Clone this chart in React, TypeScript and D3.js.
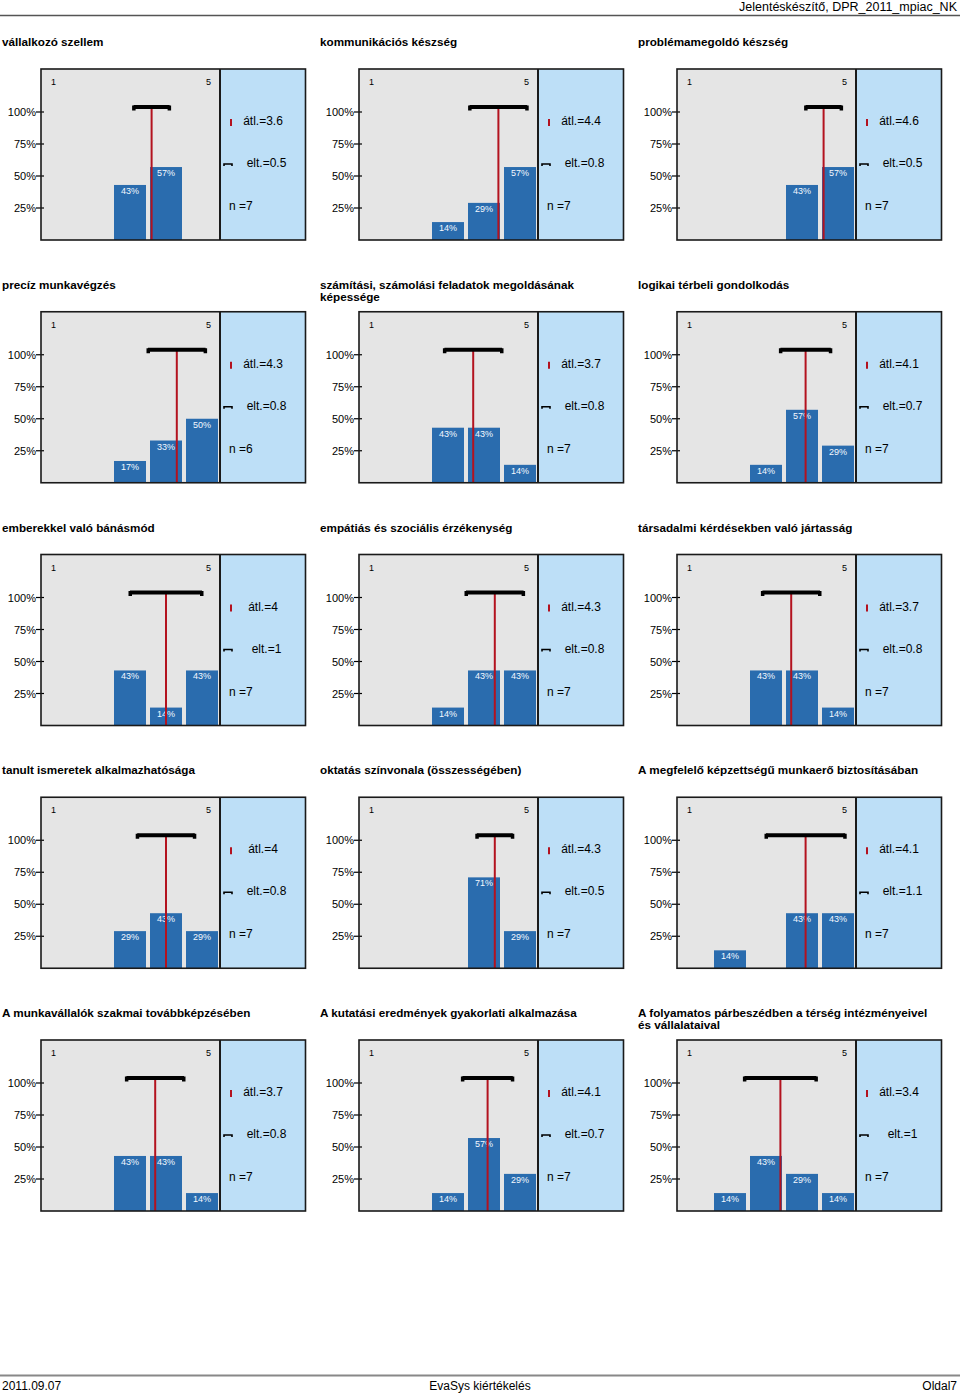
import React from "react";
import * as d3 from "d3";

const titles: string[][] = [
  ["vállalkozó szellem"],
  ["kommunikációs készség"],
  ["problémamegoldó készség"],
  ["precíz munkavégzés"],
  ["számítási, számolási feladatok megoldásának", "képessége"],
  ["logikai térbeli gondolkodás"],
  ["emberekkel való bánásmód"],
  ["empátiás és szociális érzékenység"],
  ["társadalmi kérdésekben való jártasság"],
  ["tanult ismeretek alkalmazhatósága"],
  ["oktatás színvonala (összességében)"],
  ["A megfelelő képzettségű munkaerő biztosításában"],
  ["A munkavállalók szakmai továbbképzésében"],
  ["A kutatási eredmények gyakorlati alkalmazása"],
  ["A folyamatos párbeszédben a térség intézményeivel", "és vállalataival"],
];

// percentage of answers per scale point 1..5
const distributions: number[][] = [
  [0, 0, 43, 57, 0],
  [0, 0, 14, 29, 57],
  [0, 0, 0, 43, 57],
  [0, 0, 17, 33, 50],
  [0, 0, 43, 43, 14],
  [0, 0, 14, 57, 29],
  [0, 0, 43, 14, 43],
  [0, 0, 14, 43, 43],
  [0, 0, 43, 43, 14],
  [0, 0, 29, 43, 29],
  [0, 0, 0, 71, 29],
  [0, 14, 0, 43, 43],
  [0, 0, 43, 43, 14],
  [0, 0, 14, 57, 29],
  [0, 14, 43, 29, 14],
];

const means: number[] = [3.6, 4.4, 4.6, 4.3, 3.7, 4.1, 4, 4.3, 3.7, 4, 4.3, 4.1, 3.7, 4.1, 3.4];
const sds: number[] = [0.5, 0.8, 0.5, 0.8, 0.8, 0.7, 1, 0.8, 0.8, 0.8, 0.5, 1.1, 0.8, 0.7, 1];
const counts: number[] = [7, 7, 7, 6, 7, 7, 7, 7, 7, 7, 7, 7, 7, 7, 7];

const scalePoints = [1, 2, 3, 4, 5];
const yTicks = [0.25, 0.5, 0.75, 1];

const W = 960;
const H = 1395;
const FONT = "'Liberation Sans', Arial, Helvetica, sans-serif";
const BAR = "#2a6cae";
const GRAY = "#e5e5e5";
const LIGHTBLUE = "#bddff7";
const RED = "#b3121f";

function Panel({ idx }: { idx: number }) {
  const col = idx % 3;
  const row = Math.floor(idx / 3);
  const ox = col * 318;
  const oy = row * 242.75;
  const gx = ox + 41;
  const gRight = ox + 220;
  const bRight = ox + 305.5;
  const top = oy + 69;
  const bottom = oy + 240;

  const xBand = d3.scaleBand<number>().domain(scalePoints).range([gx + 1, gx + 177]).paddingInner(4 / 36).paddingOuter(0);
  const xVal = d3.scaleLinear().domain([1, 5]).range([gx + 17, gx + 161]);
  const y = d3.scaleLinear().domain([0, 1]).range([bottom, bottom - 128]);

  const dist = distributions[idx];
  const m = means[idx];
  const sd = sds[idx];
  const bracketY = y(1) - 5;
  const x0 = xVal(m - sd);
  const x1 = xVal(m + sd);

  return (
    <g>
      {titles[idx].map((t, i) => (
        <text key={i} x={ox + 2} y={oy + 46 + i * 12} fontSize={11.7} fontWeight="bold" fill="#000">
          {t}
        </text>
      ))}
      <rect x={gx} y={top} width={gRight - gx} height={bottom - top} fill={GRAY} />
      <rect x={gRight} y={top} width={bRight - gRight} height={bottom - top} fill={LIGHTBLUE} />
      <text x={gx + 10} y={top + 16} fontSize={9} fill="#000">1</text>
      <text x={gx + 165} y={top + 16} fontSize={9} fill="#000">5</text>
      {yTicks.map((t) => (
        <g key={t}>
          <line x1={ox + 36} x2={gx + 3} y1={y(t)} y2={y(t)} stroke="#000" strokeWidth={1.2} />
          <text x={ox + 36} y={y(t) + 4} fontSize={11} textAnchor="end" fill="#000">
            {d3.format(".0%")(t)}
          </text>
        </g>
      ))}
      {dist.map((v, i) =>
        v > 0 ? (
          <g key={i}>
            <rect x={xBand(scalePoints[i])} y={y(v / 100)} width={xBand.bandwidth()} height={bottom - y(v / 100)} fill={BAR} />
            <text x={(xBand(scalePoints[i]) as number) + xBand.bandwidth() / 2} y={y(v / 100) + 9} fontSize={9} textAnchor="middle" fill="#f4f8ff">
              {v}%
            </text>
          </g>
        ) : null
      )}
      <line x1={xVal(m)} x2={xVal(m)} y1={bracketY} y2={bottom} stroke={RED} strokeWidth={2} />
      <path d={`M${x0},${bracketY}H${x1}`} stroke="#000" strokeWidth={3.8} fill="none" />
      <rect x={x0 - 1.5} y={bracketY - 1.5} width={3.5} height={5} fill="#000" />
      <rect x={x1 - 2} y={bracketY - 1.5} width={3.5} height={5} fill="#000" />
      {/* legend */}
      <line x1={ox + 231} x2={ox + 231} y1={top + 50} y2={top + 57} stroke={RED} strokeWidth={2} />
      <text x={ox + 263} y={top + 56} fontSize={12} textAnchor="middle" fill="#000">
        átl.={m}
      </text>
      <path d={`M${ox + 224},${top + 97}V${top + 95}H${ox + 232}V${top + 97}`} stroke="#000" strokeWidth={1.6} fill="none" />
      <text x={ox + 266.5} y={top + 98} fontSize={12} textAnchor="middle" fill="#000">
        elt.={sd}
      </text>
      <text x={ox + 229} y={top + 141} fontSize={12} fill="#000">
        n ={counts[idx]}
      </text>
      {/* borders */}
      <rect x={gx} y={top} width={bRight - gx} height={bottom - top} fill="none" stroke="#1a1a1a" strokeWidth={1.6} />
      <line x1={gRight} x2={gRight} y1={top} y2={bottom} stroke="#1a1a1a" strokeWidth={2} />
    </g>
  );
}

export default function App() {
  return (
    <div style={{ position: "absolute", left: 0, top: 0 }}>
      <svg width={W} height={H} viewBox={`0 0 ${W} ${H}`} style={{ display: "block", background: "#fff" }} fontFamily={FONT}>
        <text x={957} y={11} fontSize={12.5} textAnchor="end" fill="#000">Jelentéskészítő, DPR_2011_mpiac_NK</text>
        <line x1={0} x2={W} y1={15.5} y2={15.5} stroke="#555" strokeWidth={1.5} />
        {titles.map((_, i) => (
          <Panel key={i} idx={i} />
        ))}
        <line x1={0} x2={W} y1={1375.5} y2={1375.5} stroke="#888" strokeWidth={2} />
        <text x={2} y={1390} fontSize={12} fill="#000">2011.09.07</text>
        <text x={480} y={1390} fontSize={12} textAnchor="middle" fill="#000">EvaSys kiértékelés</text>
        <text x={957} y={1390} fontSize={12} textAnchor="end" fill="#000">Oldal7</text>
      </svg>
    </div>
  );
}
